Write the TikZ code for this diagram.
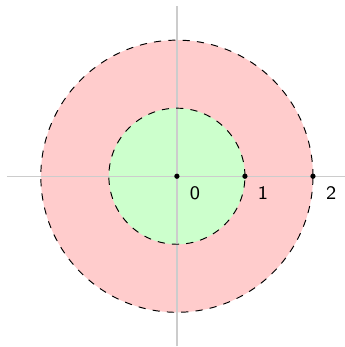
\documentclass[tikz,border=0pt]{standalone}
\usepackage{tikz}
\usetikzlibrary{positioning}

\begin{document}
\begin{tikzpicture}[font=\sffamily\footnotesize,
  dot/.style={circle,fill=black,inner sep=0pt,minimum size=2.2pt},
  axis/.style={gray!40,line width=0.6pt}]
\useasboundingbox (-2.6,-2.51) rectangle (2.47,2.59);
\fill[red!20] (0,0) circle (2);
\fill[green!20] (0,0) circle (1);
\coordinate (W) at (-2.5,0);
\coordinate (E) at (2.5,0);
\coordinate (S) at (0,-2.5);
\coordinate (N) at (0,2.5);
\draw[axis] (W) -- (E);
\draw[axis] (S) -- (N);
\draw[dashed] (0,0) circle (1);
\draw[dashed] (0,0) circle (2);
\foreach \r in {0,1,2}{
  \node[dot] (p\r) at (\r,0) {};
  \node[below right=0pt and 1pt of p\r] (l\r) {\r};
}
\end{tikzpicture}
\end{document}
